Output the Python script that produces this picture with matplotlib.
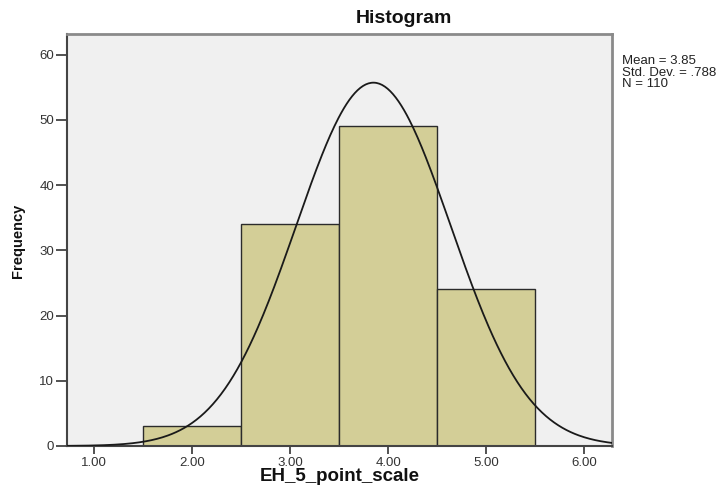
import matplotlib
matplotlib.use('Agg')
import matplotlib.pyplot as plt
import numpy as np

plt.rcParams['font.family'] = ['Liberation Sans', 'DejaVu Sans']

# histogram bins (EH_5_point_scale) and counts
bin_edges = [1.5, 2.5, 3.5, 4.5, 5.5]
counts = [3, 34, 49, 24]

# summary stats shown in the legend box
mean = 3.85
std = 0.788
n = 110

xticks = [1, 2, 3, 4, 5, 6]
yticks = [0, 10, 20, 30, 40, 50, 60]

fig = plt.figure(figsize=(7.22, 4.95), dpi=100)
ax = fig.add_axes([0.0924, 0.099, 0.7546, 0.833])
ax.set_facecolor('#f0f0f0')

lefts = bin_edges[:-1]
widths = np.diff(bin_edges)
ax.bar(lefts, counts, width=widths, align='edge', color='#d3ce97',
       edgecolor='#2b2b2b', linewidth=1.0, zorder=2)

# fitted normal curve scaled to counts (bin width 1)
xs = np.linspace(0.72, 6.28, 400)
bw = widths[0]
ys = n * bw / (std * np.sqrt(2 * np.pi)) * np.exp(-0.5 * ((xs - mean) / std) ** 2)
ax.plot(xs, ys, color='#1a1a1a', lw=1.3, zorder=3)

ax.set_xlim(0.72, 6.28)
ax.set_ylim(0, 63.2)
ax.set_xticks(xticks)
ax.set_xticklabels(['%.2f' % v for v in xticks])
ax.set_yticks(yticks)

ax.tick_params(axis='x', length=6, width=1.2, color='#333333',
               labelsize=9.5, labelcolor='#333333', pad=2)
ax.tick_params(axis='y', length=8, width=1.2, color='#333333',
               labelsize=9.5, labelcolor='#333333', pad=1)

for side in ['left', 'bottom']:
    ax.spines[side].set_color('#444444')
    ax.spines[side].set_linewidth(1.5)
for side in ['top', 'right']:
    ax.spines[side].set_color('#8a8a8a')
    ax.spines[side].set_linewidth(2)

fig.text(0.5596, 0.962, 'Histogram', ha='center', va='center',
         fontsize=14, fontweight='bold', color='#111111')
fig.text(0.471, 0.038, 'EH_5_point_scale', ha='center', va='center',
         fontsize=13.5, fontweight='bold', color='#111111')
fig.text(0.025, 0.514, 'Frequency', ha='center', va='center', rotation=90,
         fontsize=10.5, fontweight='bold', color='#111111')

fig.text(0.861, 0.888, 'Mean = %.2f\nStd. Dev. = .%d\nN = %d' % (mean, round(std * 1000), n),
         ha='left', va='top', fontsize=9.5, color='#222222', linespacing=0.93)

fig.savefig('out.png', dpi=100)
